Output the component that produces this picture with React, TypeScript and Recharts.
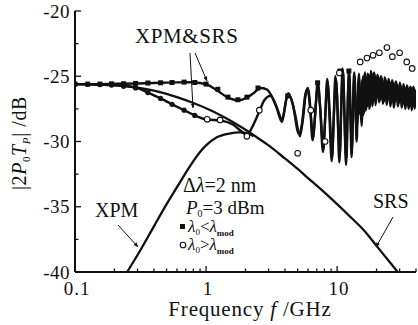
import React from 'react';
import { ComposedChart, Line, XAxis, YAxis } from 'recharts';

// frequency ticks (GHz) and labels
const xTicks = [0.1, 0.2, 0.3, 0.4, 0.5, 0.6, 0.7, 0.8, 0.9, 1, 2, 3, 4, 5, 6, 7, 8, 9, 10, 20, 30, 40];
const xLabels = [0.1, 1, 10];
const yTicks = [-40, -37.5, -35, -32.5, -30, -27.5, -25, -22.5, -20];
const yLabels = [-40, -35, -30, -25, -20];

// theory: XPM & SRS, lambda0 < lambda_mod  [f GHz, dB]
const curveA: [number, number][] = [
  [0.1, -25.6], [0.15, -25.6], [0.2, -25.58], [0.3, -25.55], [0.45, -25.5], [0.6, -25.47], [0.75, -25.46],
  [0.9, -25.52], [1.05, -25.7], [1.2, -26.05], [1.45, -26.6], [1.75, -26.85], [2.05, -26.65], [2.3, -26.3],
  [2.6, -25.9], [2.9, -26.0], [3.2, -26.6], [3.5, -27.5], [3.8, -28.3], [4.0, -27.4], [4.15, -26.5],
  [4.4, -26.6], [4.8, -28.0], [5.2, -29.6], [5.5, -28.2], [5.8, -26.2], [6.0, -25.9], [6.2, -27.0],
  [6.5, -29.9], [6.8, -28.0], [7.1, -25.5], [7.4, -27.2], [7.8, -30.8], [8.1, -28.3], [8.4, -25.2],
  [8.7, -27.6], [9.1, -31.5], [9.4, -28.5], [9.7, -25.0], [10.0, -26.5], [10.4, -31.6], [10.7, -28.0],
  [11.0, -24.4], [11.3, -27.0], [11.7, -31.8], [12.0, -28.0], [12.3, -24.5], [12.6, -27.5], [12.9, -31.2],
  [13.2, -27.5], [13.5, -24.7], [13.8, -27.0], [14.1, -30.0], [14.4, -27.0], [14.7, -24.8], [15.0, -26.8],
  [15.4, -28.8], [15.8, -25.0], [16.2, -27.8], [16.6, -25.2], [17.0, -27.3], [17.5, -24.9], [18.0, -26.9],
  [18.5, -24.8], [19.0, -26.7], [19.6, -25.0], [20.2, -26.6], [20.8, -25.1], [21.5, -26.8], [22.2, -25.3],
  [23.0, -26.9], [23.8, -25.4], [24.6, -26.7], [25.4, -25.5], [26.2, -27.0], [27.0, -25.5], [28.0, -26.9],
  [29.0, -25.7], [30.0, -27.0], [31.0, -25.8], [32.0, -27.1], [33.0, -25.9], [34.0, -27.2], [35.0, -26.0],
  [36.0, -27.3], [37.0, -25.9], [38.0, -27.0], [39.0, -26.0], [40.0, -26.8],
];

// theory: XPM & SRS, lambda0 > lambda_mod
const curveB: [number, number][] = [
  [0.1, -25.6], [0.15, -25.63], [0.2, -25.67], [0.25, -25.75], [0.3, -25.9], [0.36, -26.25], [0.45, -26.7],
  [0.55, -27.15], [0.68, -27.6], [0.82, -28.0], [1.0, -28.3], [1.3, -28.4], [1.6, -28.7], [1.85, -29.2],
  [2.05, -29.5], [2.25, -28.9], [2.5, -27.9], [2.8, -26.8], [3.1, -26.5], [3.4, -27.2], [3.8, -28.5],
  [4.05, -27.0], [4.25, -26.3], [4.6, -27.2], [5.1, -29.4], [5.4, -28.6], [5.7, -26.5], [5.95, -26.0],
  [6.3, -28.0], [6.55, -29.6], [6.9, -27.0], [7.15, -25.6], [7.5, -28.0], [7.85, -30.6], [8.2, -27.2],
  [8.45, -25.4], [8.9, -29.0], [9.15, -31.2], [9.5, -27.5], [9.8, -25.2], [10.2, -29.0], [10.5, -31.0],
  [10.8, -26.8], [11.1, -24.6], [11.5, -29.5], [11.8, -31.3], [12.1, -26.5], [12.4, -24.8], [12.75, -29.0],
  [13.0, -30.5], [13.35, -26.0], [13.6, -25.0], [14.0, -28.8], [14.3, -28.5], [14.6, -25.2], [14.9, -27.9],
  [15.2, -27.8], [15.4, -25.6], [15.6, -25.3], [15.8, -28.0], [16.0, -27.3], [16.2, -25.0], [16.4, -24.7],
  [16.6, -27.6], [16.8, -27.0], [17.05, -24.8], [17.3, -25.0], [17.55, -27.5], [17.8, -27.2], [18.05, -24.6],
  [18.3, -25.0], [18.55, -27.3], [18.8, -26.8], [19.05, -24.7], [19.3, -24.9], [19.6, -27.2], [19.9, -26.7],
  [20.2, -24.9], [20.5, -25.0], [20.85, -27.0], [21.2, -26.6], [21.55, -25.0], [21.9, -25.2], [22.25, -27.1],
  [22.6, -26.8], [23.0, -25.1], [23.4, -25.3], [23.8, -27.2], [24.2, -26.8], [24.6, -25.2], [25.0, -25.5],
  [25.4, -27.3], [25.8, -26.9], [26.2, -25.3], [26.6, -25.6], [27.0, -27.4], [27.5, -27.0], [28.0, -25.4],
  [28.5, -25.7], [29.0, -27.3], [29.5, -26.9], [30.0, -25.5], [30.5, -25.8], [31.0, -27.4], [31.5, -27.0],
  [32.0, -25.6], [32.5, -25.9], [33.0, -27.5], [33.5, -27.2], [34.0, -25.7], [34.5, -25.9], [35.0, -27.5],
  [35.5, -27.1], [36.0, -25.8], [36.5, -26.0], [37.0, -27.6], [37.5, -27.2], [38.0, -25.8], [38.5, -26.0],
  [39.0, -27.5], [39.5, -26.9], [40.0, -26.1],
];

// theory: SRS only
const curveSRS: [number, number][] = [
  [0.1, -25.6], [0.15, -25.64], [0.2, -25.7], [0.3, -25.88], [0.4, -26.1], [0.5, -26.35], [0.6, -26.6],
  [0.8, -27.05], [1.0, -27.45], [1.3, -28.0], [1.6, -28.5], [2.0, -29.1], [2.5, -29.75], [3.0, -30.3],
  [4.0, -31.3], [5.0, -32.1], [6.0, -32.8], [8.0, -33.9], [10, -34.8], [13, -35.9], [16, -36.8],
  [20, -38.0], [25, -39.2], [29, -40.0],
];

// theory: XPM only
const curveXPM: [number, number][] = [
  [0.25, -40], [0.3, -38.7], [0.4, -36.5], [0.5, -34.8], [0.6, -33.5], [0.7, -32.4], [0.8, -31.5],
  [0.9, -30.8], [1.0, -30.3], [1.2, -29.7], [1.5, -29.4], [1.8, -29.3], [2.1, -29.4], [2.3, -29.6],
];

// measured, lambda0 < lambda_mod (filled squares)
const squaresData: [number, number][] = [
  [0.1, -25.6], [0.125, -25.6], [0.155, -25.6], [0.19, -25.58], [0.235, -25.57], [0.29, -25.55],
  [0.36, -25.52], [0.45, -25.5], [0.55, -25.48], [0.68, -25.45], [0.82, -25.48], [1.0, -25.6],
  [1.23, -26.0], [1.47, -26.6], [1.75, -26.8], [2.05, -26.6], [2.49, -25.9], [4.2, -26.5],
  [7.1, -25.5], [10.5, -24.6], [12.3, -24.6],
];

// measured, lambda0 > lambda_mod, low frequency (dense, print shows as dots)
const dotsData: [number, number][] = [
  [0.1, -25.6], [0.125, -25.62], [0.155, -25.64], [0.19, -25.68], [0.235, -25.77], [0.29, -25.9],
  [0.36, -26.25], [0.45, -26.7], [0.55, -27.15], [0.68, -27.6], [0.82, -28.0],
];

// measured, lambda0 > lambda_mod (open circles)
const circlesData: [number, number][] = [
  [1.02, -28.3], [1.28, -28.35], [2.05, -29.6], [2.55, -27.6], [5.0, -30.9], [6.3, -27.6], [8.1, -30.0],
  [10.4, -24.75], [15, -23.9], [16.9, -23.6], [18.8, -23.4], [21, -23.2], [24, -22.8], [26.4, -23.5],
  [30, -23.2], [34, -23.9], [37.4, -24.4],
];

const toPts = (arr: [number, number][]) => arr.map(([f, v]) => ({ f, v }));

const FONT = 'Liberation Serif, Tinos, Times New Roman, serif';
const INK = '#111';

const BottomTick = (props: any) => {
  const { x, y, payload } = props;
  const major = xLabels.includes(payload.value);
  return (
    <g>
      <line x1={x} x2={x} y1={y} y2={y - (major ? 6 : 3.5)} stroke={INK} strokeWidth={1.3} />
      {major && (
        <text x={x + 2} y={y + 23} textAnchor="middle" fontFamily={FONT} fontSize={19} letterSpacing={1} fill={INK}>
          {payload.value}
        </text>
      )}
    </g>
  );
};

const TopTick = (props: any) => {
  const { x, y, payload } = props;
  const major = xLabels.includes(payload.value);
  return <line x1={x} x2={x} y1={y} y2={y + (major ? 6 : 3.5)} stroke={INK} strokeWidth={1.3} />;
};

const LeftTick = (props: any) => {
  const { x, y, payload } = props;
  const major = yLabels.includes(payload.value);
  return (
    <g>
      <line x1={x} x2={x + (major ? 6 : 3.5)} y1={y} y2={y} stroke={INK} strokeWidth={1.3} />
      {major && (
        <text x={x - 5} y={y + 6.5} textAnchor="end" fontFamily={FONT} fontSize={19} letterSpacing={0.5} fill={INK}>
          {payload.value}
        </text>
      )}
    </g>
  );
};

const RightTick = (props: any) => {
  const { x, y, payload } = props;
  const major = yLabels.includes(payload.value);
  return <line x1={x} x2={x - (major ? 6 : 3.5)} y1={y} y2={y} stroke={INK} strokeWidth={1.3} />;
};

const squareDot = (p: any) => (
  <rect key={`s${p.index}`} x={p.cx - 2.5} y={p.cy - 2.5} width={5} height={5} fill={INK} />
);
const smallDot = (p: any) => <circle key={`d${p.index}`} cx={p.cx} cy={p.cy} r={2.6} fill={INK} />;
const openDot = (p: any) => (
  <circle key={`o${p.index}`} cx={p.cx} cy={p.cy} r={2.8} fill="#fff" stroke={INK} strokeWidth={1.1} />
);

export default function App() {
  return (
    <div style={{ position: 'absolute', left: 0, top: 0, width: 418, height: 325, background: '#fff' }}>
      <ComposedChart width={418} height={325} margin={{ top: 11, right: 2, bottom: 0, left: 0 }}>
        <XAxis
          xAxisId="b"
          dataKey="f"
          type="number"
          scale="log"
          domain={[0.1, 40]}
          allowDataOverflow
          ticks={xTicks}
          interval={0}
          tickSize={0}
          tickMargin={0}
          height={53}
          tick={BottomTick}
          axisLine={{ stroke: INK, strokeWidth: 2 }}
        />
        <XAxis
          xAxisId="t"
          orientation="top"
          dataKey="f"
          type="number"
          scale="log"
          domain={[0.1, 40]}
          allowDataOverflow
          ticks={xTicks}
          interval={0}
          tickSize={0}
          tickMargin={0}
          height={0}
          tick={TopTick}
          axisLine={{ stroke: INK, strokeWidth: 2 }}
        />
        <YAxis
          yAxisId="l"
          dataKey="v"
          type="number"
          domain={[-40, -20]}
          allowDataOverflow
          ticks={yTicks}
          interval={0}
          tickSize={0}
          tickMargin={0}
          width={75}
          tick={LeftTick}
          axisLine={{ stroke: INK, strokeWidth: 2 }}
        />
        <YAxis
          yAxisId="r"
          orientation="right"
          dataKey="v"
          type="number"
          domain={[-40, -20]}
          allowDataOverflow
          ticks={yTicks}
          interval={0}
          tickSize={0}
          tickMargin={0}
          width={0}
          tick={RightTick}
          axisLine={{ stroke: INK, strokeWidth: 1.5 }}
        />
        <Line xAxisId="b" yAxisId="l" data={toPts(curveSRS)} dataKey="v" type="monotone" stroke={INK} strokeWidth={2.3} dot={false} isAnimationActive={false} />
        <Line xAxisId="b" yAxisId="l" data={toPts(curveXPM)} dataKey="v" type="monotone" stroke={INK} strokeWidth={2.3} dot={false} isAnimationActive={false} />
        <Line xAxisId="b" yAxisId="l" data={toPts(curveB)} dataKey="v" type="monotone" stroke={INK} strokeWidth={2.4} dot={false} isAnimationActive={false} />
        <Line xAxisId="b" yAxisId="l" data={toPts(curveA)} dataKey="v" type="monotone" stroke={INK} strokeWidth={2.4} dot={false} isAnimationActive={false} />
        <Line xAxisId="b" yAxisId="l" data={toPts(squaresData)} dataKey="v" stroke="none" dot={squareDot} isAnimationActive={false} />
        <Line xAxisId="b" yAxisId="l" data={toPts(dotsData)} dataKey="v" stroke="none" dot={smallDot} isAnimationActive={false} />
        <Line xAxisId="b" yAxisId="l" data={toPts(circlesData)} dataKey="v" stroke="none" dot={openDot} isAnimationActive={false} />
      </ComposedChart>
      <svg width={418} height={325} style={{ position: 'absolute', left: 0, top: 0, pointerEvents: 'none' }} fontFamily={FONT} fill={INK}>
        <defs>
          <marker id="ah" viewBox="0 0 10 10" refX="9" refY="5" markerWidth="5" markerHeight="5" orient="auto">
            <path d="M0,1 L10,5 L0,9 z" fill={INK} />
          </marker>
        </defs>
        {/* Y axis title */}
        <text transform="translate(26,143) rotate(-90)" textAnchor="middle" fontSize={20} letterSpacing={0.6}>
          |2<tspan fontStyle="italic">P</tspan>
          <tspan fontSize={11} dy={4}>0</tspan>
          <tspan dy={-4} fontStyle="italic">T</tspan>
          <tspan fontSize={11} dy={4} fontStyle="italic">P</tspan>
          <tspan dy={-4}>| /dB</tspan>
        </text>
        {/* X axis title */}
        <text x={250} y={316} textAnchor="middle" fontSize={21} letterSpacing={0.8}>
          Frequency <tspan fontStyle="italic">f</tspan> /GHz
        </text>
        {/* XPM&SRS annotation */}
        <text x={135} y={43} fontSize={21} letterSpacing={0.6}>XPM&amp;SRS</text>
        <line x1={190} y1={53} x2={193} y2={108} stroke={INK} strokeWidth={1} markerEnd="url(#ah)" />
        <line x1={195} y1={53} x2={207} y2={81} stroke={INK} strokeWidth={1} markerEnd="url(#ah)" />
        {/* XPM annotation */}
        <text x={95} y={217} fontSize={20}>XPM</text>
        <line x1={118} y1={225} x2={138} y2={247} stroke={INK} strokeWidth={1} markerEnd="url(#ah)" />
        {/* SRS annotation */}
        <text x={373} y={208} fontSize={20}>SRS</text>
        <line x1={393} y1={217} x2={376} y2={247} stroke={INK} strokeWidth={1} markerEnd="url(#ah)" />
        {/* parameters */}
        <text x={183} y={192} fontSize={20}>
          Δ<tspan fontStyle="italic">λ</tspan>=2 nm
        </text>
        <text x={186} y={214} fontSize={19}>
          <tspan fontStyle="italic">P</tspan>
          <tspan fontSize={10} dy={3}>0</tspan>
          <tspan dy={-3}>=3 dBm</tspan>
        </text>
        <rect x={180} y={224} width={5} height={5} fill={INK} />
        <text x={188} y={232} fontSize={17}>
          <tspan fontStyle="italic">λ</tspan>
          <tspan fontSize={9} dy={3}>0</tspan>
          <tspan dy={-3}>&lt;</tspan>
          <tspan fontStyle="italic">λ</tspan>
          <tspan fontSize={9} dy={4} fontWeight="bold">mod</tspan>
        </text>
        <circle cx={183} cy={245} r={2.8} fill="#fff" stroke={INK} strokeWidth={1.1} />
        <text x={188} y={250} fontSize={17}>
          <tspan fontStyle="italic">λ</tspan>
          <tspan fontSize={9} dy={3}>0</tspan>
          <tspan dy={-3}>&gt;</tspan>
          <tspan fontStyle="italic">λ</tspan>
          <tspan fontSize={9} dy={4} fontWeight="bold">mod</tspan>
        </text>
      </svg>
    </div>
  );
}
